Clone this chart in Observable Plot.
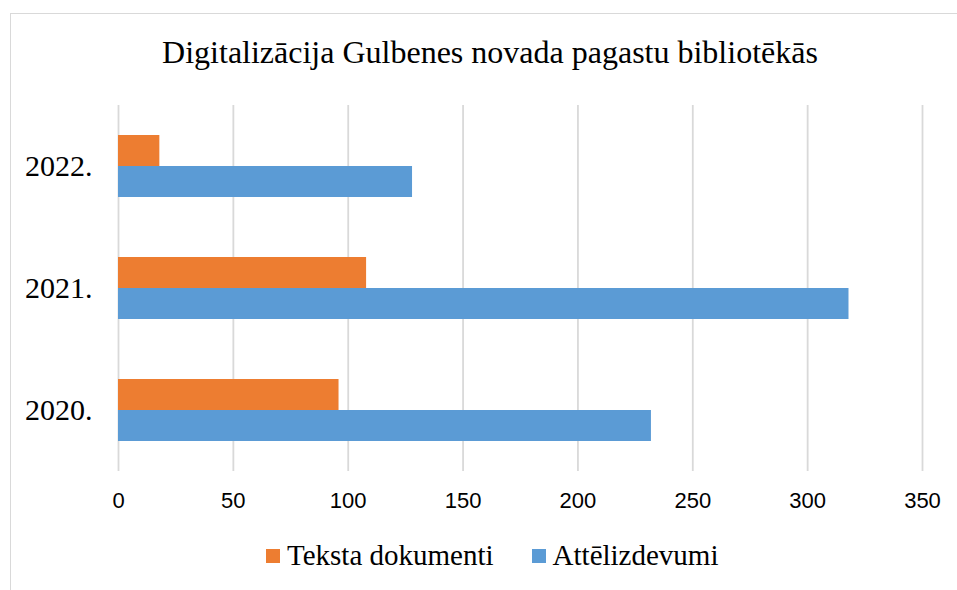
<!DOCTYPE html>
<html>
<head>
<meta charset="utf-8">
<script src="https://cdn.jsdelivr.net/npm/d3@7"></script>
<script src="https://cdn.jsdelivr.net/npm/@observablehq/plot@0.6"></script>
<style>
  html, body { margin: 0; padding: 0; background: #fff; }
  body { width: 957px; height: 590px; position: relative; overflow: hidden; }
  #frame { position: absolute; left: 10px; top: 13px; width: 960px; height: 600px; border: 1.5px solid #d9d9d9; box-sizing: border-box; }
  #title { position: absolute; left: 10px; width: 960px; top: 36px; text-align: center; font: 32px "Liberation Serif", serif; line-height: 32px; color: #000; white-space: nowrap; }
  #chart { position: absolute; left: 0; top: 0; }
  #legend { position: absolute; left: 266px; top: 541px; display: flex; align-items: flex-start; font: 29px "Liberation Serif", serif; line-height: 28px; color: #000; white-space: nowrap; }
  .item { display: flex; align-items: flex-start; margin-right: 38px; }
  .sw { width: 14px; height: 14px; margin-top: 8px; margin-right: 7px; }
</style>
</head>
<body>
<div id="frame"></div>
<div id="chart"></div>
<div id="title">Digitalizācija Gulbenes novada pagastu bibliotēkās</div>
<div id="legend"></div>
<script>
const years = ["2022.", "2021.", "2020."];
const series = ["Teksta dokumenti", "Attēlizdevumi"];
const tekstaDokumenti = [18, 108, 96];
const attelizdevumi = [128, 318, 232];
const xTicks = [0, 50, 100, 150, 200, 250, 300, 350];
const colors = ["#ED7D31", "#5B9BD5"];

const data = years.flatMap((yr, i) => [
  {year: yr, series: series[0], value: tekstaDokumenti[i]},
  {year: yr, series: series[1], value: attelizdevumi[i]}
]);

const chart = Plot.plot({
  width: 957,
  height: 530,
  marginLeft: 118,
  marginRight: 35,
  marginTop: 104,
  marginBottom: 58,
  style: {background: "transparent", color: "#000"},
  x: {domain: [0, 350], ticks: xTicks, axis: null},
  fy: {domain: years, padding: 0, axis: null},
  y: {domain: series, paddingInner: 0, paddingOuter: 0.917, axis: null},
  color: {domain: series, range: colors},
  marks: [
    Plot.gridX(xTicks, {stroke: "#d9d9d9", strokeOpacity: 1, strokeWidth: 1.8}),
    Plot.barX(data, {x: "value", y: "series", fy: "year", fill: "series"}),
    Plot.axisX(xTicks, {tickSize: 0, tickPadding: 21, fontSize: 22, fontFamily: "Liberation Sans", fill: "#000", label: null}),
    Plot.axisFy({anchor: "left", tickSize: 0, tickPadding: 26, fontSize: 30, fontFamily: "Liberation Serif", fill: "#000", label: null})
  ]
});
document.getElementById("chart").appendChild(chart);

const legend = document.getElementById("legend");
series.forEach((s, i) => {
  const item = document.createElement("div");
  item.className = "item";
  const sw = document.createElement("div");
  sw.className = "sw";
  sw.style.background = colors[i];
  const t = document.createElement("span");
  t.textContent = s;
  item.appendChild(sw);
  item.appendChild(t);
  legend.appendChild(item);
});
</script>
</body>
</html>
